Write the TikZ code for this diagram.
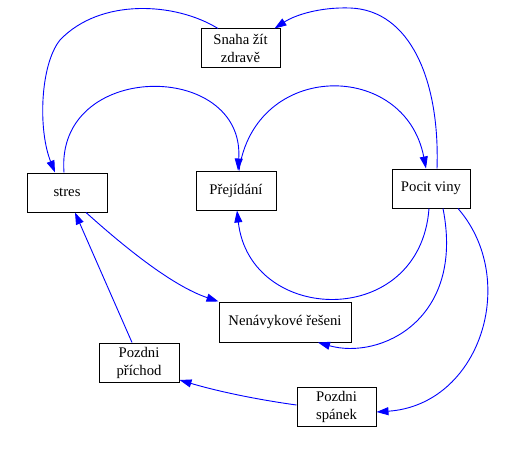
\documentclass[tikz,border=0pt]{standalone}
\usepackage{fontspec}
\setmainfont{Liberation Serif}
\usetikzlibrary{arrows.meta}
\begin{document}
\begin{tikzpicture}[x=1pt,y=-1pt,
  box/.style={draw=black, line width=1pt, fill=white, inner sep=0pt, align=center,
    font=\fontsize{14.7}{18}\selectfont},
  edge/.style={draw=blue, line width=0.9pt, -{Triangle[length=12pt,width=8pt]}}]
\useasboundingbox (0,0) rectangle (510,449);
\node[box, minimum width=79pt, minimum height=39pt] (snaha) at (240.5,48.5) {Snaha žít\\zdravě};
\node[box, minimum width=80pt, minimum height=39pt] (stres) at (67,192.5) {stres};
\node[box, minimum width=80pt, minimum height=39pt] (prej) at (236,190.5) {Přejídání};
\node[box, minimum width=78pt, minimum height=39pt] (pocit) at (431,188.5) {Pocit viny};
\node[box, minimum width=132pt, minimum height=40pt] (nen) at (285,322) {Nenávykové řešeni};
\node[box, minimum width=80pt, minimum height=39pt] (prichod) at (139,362.5) {Pozdni\\příchod};
\node[box, minimum width=79pt, minimum height=39pt] (spanek) at (336.5,406.5) {Pozdni\\spánek};
% Snaha -> stres
\draw[edge] ([xshift=-22.5pt]snaha.north) .. controls (175,2) and (100,-2) .. (60,40)
  .. controls (40,65) and (38,130) .. ([xshift=-12pt]stres.north);
% stres -> Prejidani
\draw[edge] ([xshift=-3pt]stres.north) .. controls (55,60) and (245,60) .. ([xshift=2pt]prej.north);
% Prejidani -> Pocit viny
\draw[edge] ([xshift=3pt]prej.north) .. controls (255,60) and (405,60) .. ([xshift=-5pt]pocit.north);
% Pocit viny -> Snaha
\draw[edge] ([xshift=6pt]pocit.north) .. controls (440,80) and (410,10) .. (350,8)
  .. controls (320,7) and (295,15) .. ([xshift=34pt]snaha.north);
% Pocit viny -> Prejidani (bottom)
\draw[edge] ([xshift=-2pt]pocit.south) .. controls (420,330) and (250,325) .. ([xshift=1pt]prej.south);
% Pocit viny -> Nenavykove
\draw[edge] ([xshift=12pt]pocit.south) .. controls (465,320) and (380,360) .. ([xshift=33pt]nen.south);
% Pocit viny -> Pozdni spanek
\draw[edge] ([xshift=27pt]pocit.south) .. controls (520,280) and (480,405) .. ([yshift=-5.5pt]spanek.east);
% stres -> Nenavykove
\draw[edge] ([xshift=19pt]stres.south) .. controls (120,243) and (170,285) .. (nen.north west);
% Pozdni spanek -> Pozdni prichod
\draw[edge] ([yshift=1.5pt]spanek.west) .. controls (260,400) and (220,392) .. ([yshift=-17.5pt]prichod.east);
% Pozdni prichod -> stres
\draw[edge] ([xshift=-7pt]prichod.north) -- ([xshift=8pt]stres.south);
\end{tikzpicture}
\end{document}
